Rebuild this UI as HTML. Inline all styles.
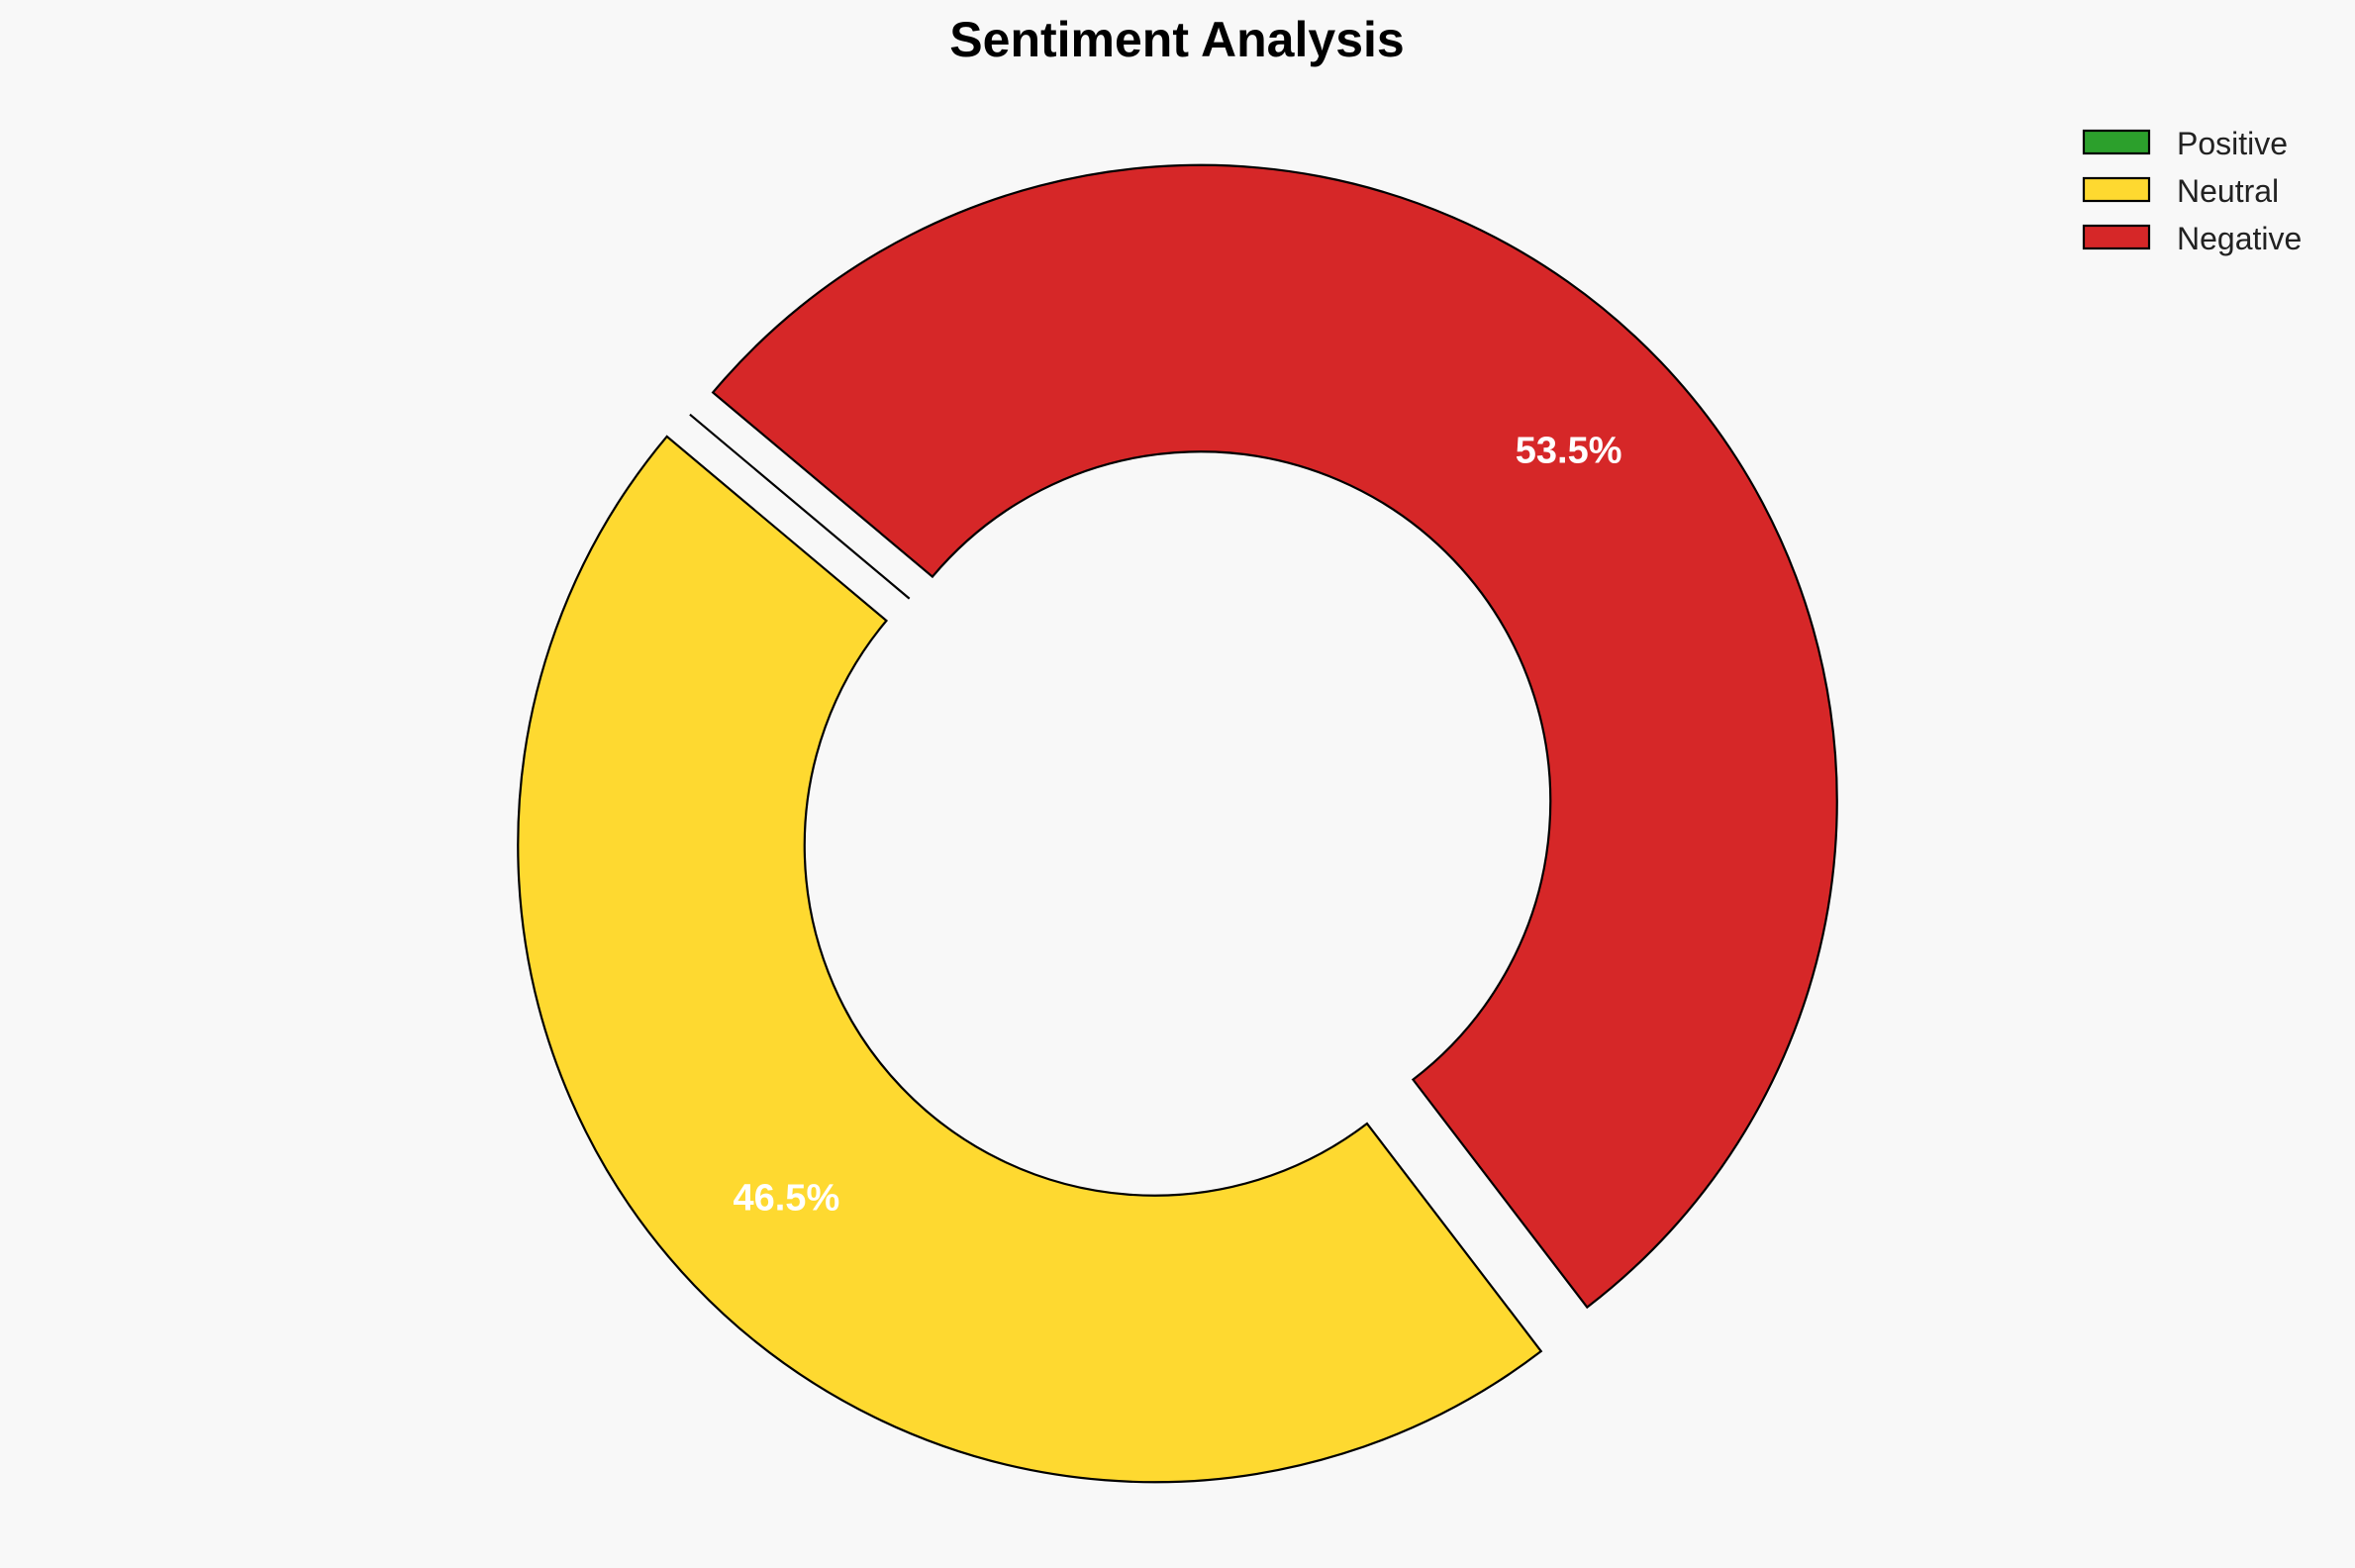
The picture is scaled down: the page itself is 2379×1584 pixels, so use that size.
<!DOCTYPE html>
<html><head><meta charset="utf-8"><style>
html,body{margin:0;padding:0;background:#f8f8f8;}
svg{display:block;font-family:"Liberation Sans",Arial,sans-serif;}
</style></head><body>
<svg id="chart" width="2379" height="1584" viewBox="0 0 2379 1584">
<rect width="2379" height="1584" fill="#f8f8f8"/>
<text x="1189" y="57" text-anchor="middle" font-size="50" font-weight="bold" fill="#000">Sentiment Analysis</text>
<g id="wedges"></g>
<g id="legend"></g>
</svg>
<script>
const categories = ["Positive","Neutral","Negative"];
const values = [0, 46.5, 53.5];
const colors = ["#2ca02c","#fed930","#d62728"];
const explodes = [0, 0.05, 0.05];

const NS="http://www.w3.org/2000/svg";
const cx=1189.5, cy=832, R=643, r=353.5, startAngle=140;
const total=values.reduce((a,b)=>a+b,0);
const g=document.getElementById('wedges');
function pt(x,y,rad,deg){const a=deg*Math.PI/180;return [x+rad*Math.cos(a), y-rad*Math.sin(a)];}
let ang=startAngle;
values.forEach((v,i)=>{
  const sweep=v/total*360;
  const mid=ang+sweep/2;
  const [ox,oy]=pt(0,0,explodes[i]*R,mid);
  const x=cx+ox,y=cy+oy;
  const a1=ang,a2=ang+sweep;
  const p1=pt(x,y,R,a1),p2=pt(x,y,R,a2),p3=pt(x,y,r,a2),p4=pt(x,y,r,a1);
  const large=sweep>180?1:0;
  const d = sweep>0 ?
    `M${p1[0]},${p1[1]} A${R},${R} 0 ${large} 0 ${p2[0]},${p2[1]} L${p3[0]},${p3[1]} A${r},${r} 0 ${large} 1 ${p4[0]},${p4[1]} Z` :
    `M${p4[0]},${p4[1]} L${p1[0]},${p1[1]}`;
  const path=document.createElementNS(NS,'path');
  
  
  path.setAttribute('d',d);
  path.setAttribute('fill',colors[i]);
  path.setAttribute('stroke','#000');
  path.setAttribute('stroke-width','2.2');
  path.setAttribute('stroke-linejoin','miter');
  g.appendChild(path);
  if(sweep>0){
    const lp=pt(x,y,0.8*R,mid);
    const t=document.createElementNS(NS,'text');
    
    
    t.setAttribute('x',lp[0]);t.setAttribute('y',lp[1]+13);
    t.setAttribute('text-anchor','middle');
    t.setAttribute('font-size','38');t.setAttribute('font-weight','bold');
    t.setAttribute('fill','#fff');
    t.textContent=v.toFixed(1)+'%';
    g.appendChild(t);
  }
  ang=a2;
});
const lg=document.getElementById('legend');
categories.forEach((c,i)=>{
  const y=132+i*48;
  const rc=document.createElementNS(NS,'rect');
  
  
  rc.setAttribute('x',2105);rc.setAttribute('y',y);rc.setAttribute('width',66);rc.setAttribute('height',23);
  rc.setAttribute('fill',colors[i]);rc.setAttribute('stroke','#000');rc.setAttribute('stroke-width','2.2');
  lg.appendChild(rc);
  const t=document.createElementNS(NS,'text');
  
  
  t.setAttribute('x',2199);t.setAttribute('y',y+24);
  t.setAttribute('font-size','32');t.setAttribute('fill','#222');
  t.textContent=c;
  lg.appendChild(t);
});
</script>
</body></html>
